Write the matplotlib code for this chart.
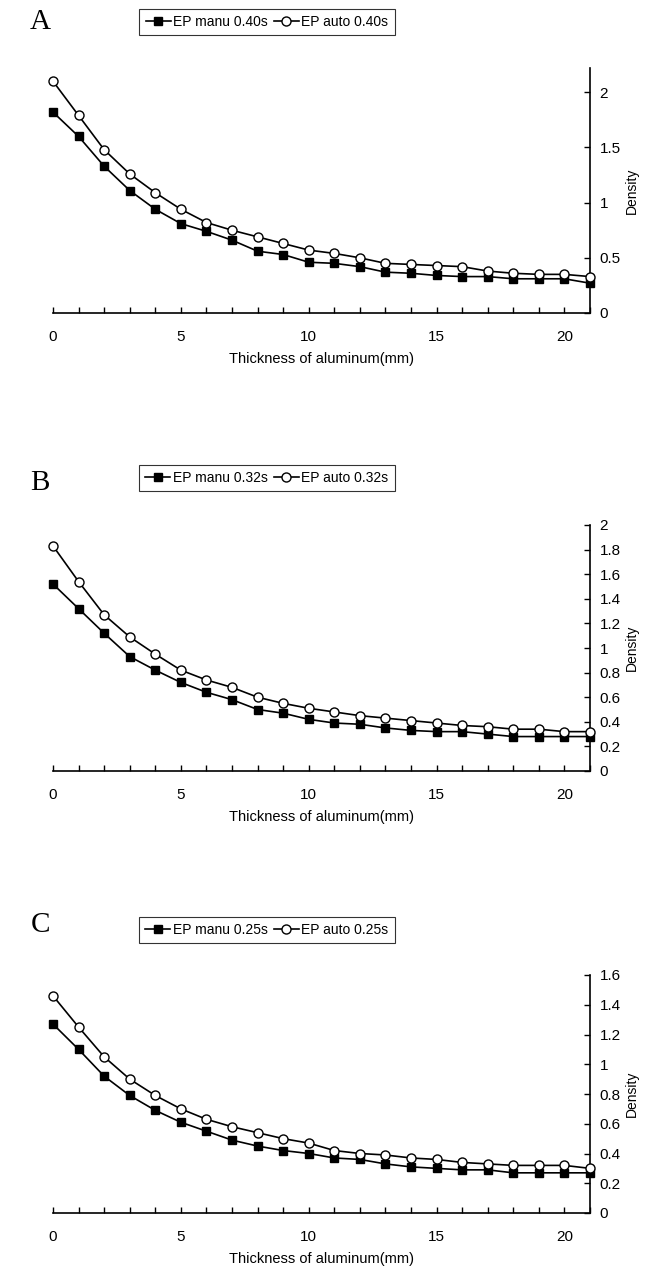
import numpy as np
import matplotlib
matplotlib.use('Agg')
import matplotlib.pyplot as plt

# --------------------------------------------------------------------------- #
# Data
# --------------------------------------------------------------------------- #
thickness = list(range(22))

manuA = [1.82, 1.60, 1.33, 1.11, 0.94, 0.81, 0.74, 0.66, 0.56, 0.53, 0.46,
         0.45, 0.42, 0.37, 0.36, 0.34, 0.33, 0.33, 0.31, 0.31, 0.31, 0.27]
autoA = [2.10, 1.79, 1.48, 1.26, 1.09, 0.94, 0.82, 0.75, 0.69, 0.63, 0.57,
         0.54, 0.50, 0.45, 0.44, 0.43, 0.42, 0.38, 0.36, 0.35, 0.35, 0.33]

manuB = [1.52, 1.32, 1.12, 0.93, 0.82, 0.72, 0.64, 0.58, 0.50, 0.47, 0.42,
         0.39, 0.38, 0.35, 0.33, 0.32, 0.32, 0.30, 0.28, 0.28, 0.28, 0.28]
autoB = [1.83, 1.54, 1.27, 1.09, 0.95, 0.82, 0.74, 0.68, 0.60, 0.55, 0.51,
         0.48, 0.45, 0.43, 0.41, 0.39, 0.37, 0.36, 0.34, 0.34, 0.32, 0.32]

manuC = [1.27, 1.10, 0.92, 0.79, 0.69, 0.61, 0.55, 0.49, 0.45, 0.42, 0.40,
         0.37, 0.36, 0.33, 0.31, 0.30, 0.29, 0.29, 0.27, 0.27, 0.27, 0.27]
autoC = [1.46, 1.25, 1.05, 0.90, 0.79, 0.70, 0.63, 0.58, 0.54, 0.50, 0.47,
         0.42, 0.40, 0.39, 0.37, 0.36, 0.34, 0.33, 0.32, 0.32, 0.32, 0.30]

panelLetters = ["A", "B", "C"]
exposures = ["0.40s", "0.32s", "0.25s"]
yTicks = [[0, 0.5, 1, 1.5, 2],
          [0, 0.2, 0.4, 0.6, 0.8, 1, 1.2, 1.4, 1.6, 1.8, 2],
          [0, 0.2, 0.4, 0.6, 0.8, 1, 1.2, 1.4, 1.6]]
yMax = [2.22, 2.0, 1.6]

# --------------------------------------------------------------------------- #
# Layout (pixel positions of each panel in a 656x1284 image)
# --------------------------------------------------------------------------- #
W, H = 656.0, 1284.0
axLeft, axRight = 53, 590
axTopBottom = [(68, 313), (525, 771), (975, 1213)]
legendY = [22, 478, 930]
letterY = [22, 483, 925]

plt.rcParams['font.family'] = ['Liberation Sans', 'DejaVu Sans']

fig = plt.figure(figsize=(W / 100, H / 100), dpi=100)

manuSet = [manuA, manuB, manuC]
autoSet = [autoA, autoB, autoC]

for i in range(3):
  top, bottom = axTopBottom[i]
  ax = fig.add_axes([axLeft / W, 1 - bottom / H, (axRight - axLeft) / W, (bottom - top) / H])

  l1, = ax.plot(thickness, manuSet[i], '-', color='black', lw=1.2,
                marker='s', markersize=6, markerfacecolor='black',
                markeredgecolor='black', clip_on=False, zorder=3)
  l2, = ax.plot(thickness, autoSet[i], '-', color='black', lw=1.2,
                marker='o', markersize=6.5, markerfacecolor='white',
                markeredgecolor='black', markeredgewidth=1.0, clip_on=False, zorder=4)

  ax.set_xlim(0, 21)
  ax.set_ylim(0, yMax[i])

  ax.spines['left'].set_visible(False)
  ax.spines['top'].set_visible(False)
  ax.spines['right'].set_linewidth(1.2)
  ax.spines['bottom'].set_linewidth(1.2)

  ax.yaxis.tick_right()
  ax.yaxis.set_label_position('right')
  ax.set_yticks(yTicks[i])
  ax.set_yticklabels(["{:g}".format(t) for t in yTicks[i]])
  ax.tick_params(axis='y', direction='in', length=4, width=1, labelsize=11, pad=7)

  ax.set_xticks(range(0, 22))
  ax.set_xticklabels([str(t) if t % 5 == 0 and t < 21 else "" for t in range(0, 22)])
  ax.tick_params(axis='x', direction='in', length=4, width=1, labelsize=11, pad=12)

  ax.set_xlabel("Thickness of aluminum(mm)", fontsize=10.5, labelpad=6)
  ax.set_ylabel("Density", fontsize=10, labelpad=3)

  leg = fig.legend([l1, l2],
                   ["EP manu " + exposures[i], "EP auto " + exposures[i]],
                   loc='center', bbox_to_anchor=(267 / W, 1 - legendY[i] / H),
                   ncol=2, fontsize=10, frameon=True, fancybox=False,
                   handlelength=1.8, handletextpad=0.2, columnspacing=0.4,
                   borderpad=0.45, borderaxespad=0)
  leg.get_frame().set_edgecolor('black')
  leg.get_frame().set_linewidth(0.8)

  fig.text(40 / W, 1 - letterY[i] / H, panelLetters[i], fontsize=21,
           family=['Liberation Serif', 'DejaVu Serif'], ha='center', va='center')

plt.savefig("out.png", dpi=100)
